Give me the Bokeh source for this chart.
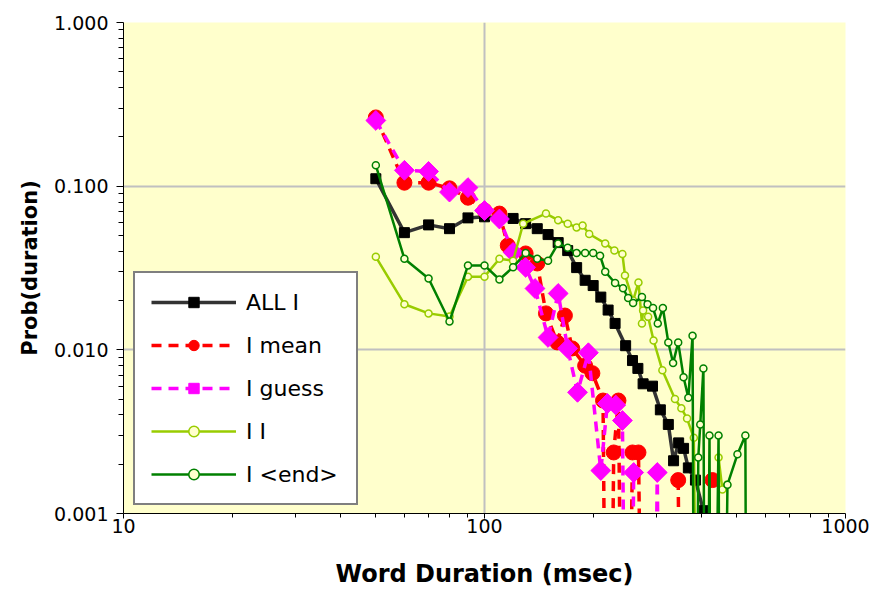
import numpy as np
from bokeh.plotting import figure
from bokeh.models import FixedTicker, PrintfTickFormatter, Legend, LegendItem, Range1d
from bokeh.embed import file_html
from bokeh.resources import INLINE

Z = 1e-6      # zero count: falls off the log axis
NA = np.nan   # break in the line

# ALL I
all_x = [50, 60, 70, 80, 90, 100, 110, 120, 130, 140, 150, 160, 170, 180, 190, 200, 210, 220, 230,
         246, 257, 266, 275, 292, 307, 323, 334, 345, 356, 367, 384, 404]
all_y = [0.111, 0.052, 0.058, 0.055, 0.064, 0.065, 0.064, 0.0635, 0.059, 0.055, 0.0506, 0.0452, 0.0404,
         0.0318, 0.0266, 0.0247, 0.021, 0.0175, 0.0145, 0.0106, 0.0086, 0.0077, 0.0062, 0.0060, 0.0043,
         0.0035, 0.0021, 0.0027, 0.0025, 0.0019, 0.0016, 0.00104]

# I mean
mean_x = [50, 60, 70, 80, 90, 100, 110, 116, 130, 140, 148, 159, 167, 175, 190, 199, 213, 220, 228, 235,
          245, 257, 267, 280, 300, 344, 355, 400, 428]
mean_y = [0.263, 0.105, 0.105, 0.097, 0.085, 0.071, 0.068, 0.0434, 0.0388, 0.0337, 0.0167, 0.0111, 0.0162,
          0.0102, 0.0080, 0.0072, 0.0049, Z, 0.00236, 0.0049, Z, 0.00236, 0.00236, Z, NA, 0.0016, Z, NA, 0.0016]

# I guess
guess_x = [50, 60, 70, 80, 90, 100, 110, 120, 130, 138, 150, 160, 170, 181, 194, 210, 219, 231, 241, 250,
           259, 280, 290, 301, 310]
guess_y = [0.252, 0.125, 0.123, 0.092, 0.098, 0.071, 0.063, 0.0394, 0.0319, 0.0237, 0.0119, 0.0221, 0.0102,
           0.0055, 0.0096, 0.00183, 0.0047, 0.0046, 0.0037, Z, 0.00178, NA, Z, 0.00178, Z]

# I I
ii_x = [50, 60, 70, 80, 90, 100, 110, 120, 128, 148, 160, 170, 180, 187, 195, 216, 229, 241, 245, 258, 267,
        273, 275, 284, 294, 311, 337, 351, 364, 380, 396, 420, 440, 445, 456, 470]
ii_y = [0.037, 0.019, 0.0167, 0.016, 0.028, 0.028, 0.036, 0.035, 0.059, 0.068, 0.062, 0.059, 0.056, 0.0575,
        0.051, 0.0447, 0.0405, 0.0385, 0.0285, 0.020, 0.0258, 0.0145, 0.0174, 0.0159, 0.0114, 0.0075, 0.0050,
        0.0044, 0.0038, 0.0029, Z, NA, Z, 0.0022, 0.0014, 0.0015]

# I <end>
end_x = [50, 60, 70, 80, 90, 100, 110, 120, 130, 140, 150, 160, 170, 180, 190, 200, 209, 216, 230, 242, 250,
         258, 273, 283, 293, 302, 312, 323, 333, 344, 356, 367, 377, 383, 391, 396, 404, 410, 420, 426, 445,
         452, 471, 502, 528, 535]
end_y = [0.134, 0.036, 0.0273, 0.0149, 0.0328, 0.0328, 0.0269, 0.032, 0.039, 0.036, 0.035, 0.0447, 0.042,
         0.039, 0.039, 0.039, 0.0376, 0.030, 0.0256, 0.0238, 0.0207, 0.0193, 0.021, 0.019, 0.018, 0.0145,
         0.018, 0.0111, 0.0083, 0.0111, 0.0068, 0.0051, 0.0122, Z, 0.0022, 0.0035, 0.0077, Z, 0.0030, Z,
         0.0030, Z, 0.0015, 0.0023, 0.0030, Z]

x_ticks = [10, 100, 1000]
y_ticks = [0.001, 0.01, 0.1, 1.0]

FONT = "DejaVu Sans"

p = figure(width=871, height=590, x_axis_type="log", y_axis_type="log",
           x_range=Range1d(10, 1000), y_range=Range1d(0.001, 1.0),
           output_backend="svg", toolbar_location=None,
           min_border_left=123, min_border_right=26, min_border_top=22, min_border_bottom=77)

p.background_fill_color = "#FFFFCC"
p.border_fill_color = "white"
p.outline_line_color = None

x_minor = [m * d for d in (10, 100) for m in range(2, 10)]
y_minor = [m * d for d in (0.001, 0.01, 0.1) for m in range(2, 10)]
p.xaxis.ticker = FixedTicker(ticks=x_ticks, minor_ticks=x_minor)
p.yaxis.ticker = FixedTicker(ticks=y_ticks, minor_ticks=y_minor)
p.xaxis.formatter = PrintfTickFormatter(format="%d")
p.yaxis.formatter = PrintfTickFormatter(format="%.3f")

for ax in (p.xaxis, p.yaxis):
    ax.axis_line_color = "black"
    ax.major_tick_line_color = "black"
    ax.minor_tick_line_color = "black"
    ax.major_label_text_font = FONT
    ax.major_label_text_font_size = "19px"
    ax.major_label_text_color = "black"
    ax.axis_label_text_font = FONT
    ax.axis_label_text_font_style = "bold"
    ax.axis_label_text_color = "black"

p.yaxis.major_tick_out = 7
p.yaxis.major_tick_in = 0
p.yaxis.minor_tick_out = 5
p.yaxis.minor_tick_in = 0
p.yaxis.major_label_standoff = 8
p.yaxis.axis_label = "Prob(duration)"
p.yaxis.axis_label_text_font_size = "21px"
p.yaxis.axis_label_standoff = 9

p.xaxis.major_tick_out = 5
p.xaxis.major_tick_in = 0
p.xaxis.minor_tick_out = 4
p.xaxis.minor_tick_in = 0
p.xaxis.major_label_standoff = 0
p.xaxis.axis_label = "Word Duration (msec)"
p.xaxis.axis_label_text_font_size = "24px"
p.xaxis.axis_label_standoff = 24

p.xgrid.grid_line_color = "#C0C0C0"
p.ygrid.grid_line_color = "#C0C0C0"
p.xgrid.grid_line_width = 2
p.ygrid.grid_line_width = 2

def arr(v):
    return np.array(v, dtype=float)

l_all = p.line(arr(all_x), arr(all_y), line_color="#333333", line_width=3.5)
s_all = p.scatter(arr(all_x), arr(all_y), marker="square", size=10, fill_color="black", line_color="black")

l_mean = p.line(arr(mean_x), arr(mean_y), line_color="#FF0000", line_width=3.5, line_dash="10 7")
s_mean = p.scatter(arr(mean_x), arr(mean_y), marker="circle", size=15, fill_color="#FF0000", line_color="#FF0000")

l_guess = p.line(arr(guess_x), arr(guess_y), line_color="#FF00FF", line_width=3.5, line_dash="10 7")
s_guess = p.scatter(arr(guess_x), arr(guess_y), marker="square", angle=np.pi / 4, size=14,
                    fill_color="#FF00FF", line_color="#FF00FF")

l_ii = p.line(arr(ii_x), arr(ii_y), line_color="#99CC00", line_width=2.5)
s_ii = p.scatter(arr(ii_x), arr(ii_y), marker="circle", size=7, fill_color="#FFFFCC", line_color="#99CC00",
                 line_width=1.5)

l_end = p.line(arr(end_x), arr(end_y), line_color="#008000", line_width=2.5)
s_end = p.scatter(arr(end_x), arr(end_y), marker="circle", size=7, fill_color="#FFFFCC", line_color="#008000",
                  line_width=1.5)

legend = Legend(items=[
    LegendItem(label="ALL I", renderers=[l_all, s_all]),
    LegendItem(label="I mean", renderers=[l_mean, s_mean]),
    LegendItem(label="I guess", renderers=[l_guess, s_guess]),
    LegendItem(label="I I", renderers=[l_ii, s_ii]),
    LegendItem(label="I <end>", renderers=[l_end, s_end]),
], location=(10, 8))
legend.margin = 0
legend.padding = 16
legend.spacing = 17
legend.glyph_height = 26
legend.glyph_width = 85
legend.label_height = 26
legend.label_width = 94
legend.label_standoff = 10
legend.label_text_font = FONT
legend.label_text_font_size = "22px"
legend.label_text_color = "black"
legend.border_line_color = "black"
legend.border_line_width = 2
legend.background_fill_color = "white"
legend.background_fill_alpha = 1.0
p.add_layout(legend)

open("out.html", "w").write(file_html(p, INLINE))
